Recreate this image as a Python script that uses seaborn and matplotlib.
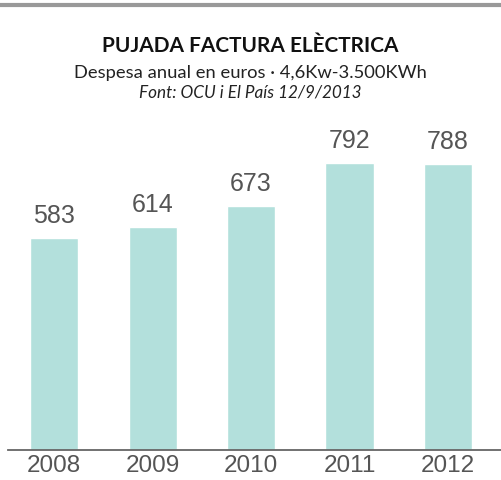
import numpy as np
import pandas as pd
import seaborn as sns
import matplotlib.pyplot as plt
from matplotlib.lines import Line2D

years = ['2008', '2009', '2010', '2011', '2012']
cost = [583, 614, 673, 792, 788]

bar_color = '#b3e0dc'
text_gray = '#555555'

df = pd.DataFrame({'year': years, 'cost': cost})

sns.set_theme(style='white')
plt.rcParams['font.family'] = ['Liberation Sans', 'DejaVu Sans']

fig = plt.figure(figsize=(5.01, 4.81), dpi=100)
# axes placed so the baseline sits near the bottom, bars span the width
ax = fig.add_axes([8 / 501, 30 / 481, 493 / 501, 363 / 481])
sns.barplot(data=df, x='year', y='cost', color=bar_color, saturation=1,
            width=0.49, ax=ax)
ax.set_xlim(-0.47, 4.54)
ax.set_ylim(0, 1000)

for i, v in enumerate(cost):
    ax.text(i, v + 30, str(v), ha='center', va='bottom', fontsize=18,
            color=text_gray)

sns.despine(ax=ax, left=True, top=True, right=True)
ax.spines['bottom'].set_color('#666666')
ax.spines['bottom'].set_linewidth(1.3)
ax.set_yticks([])
ax.set_xlabel('')
ax.set_ylabel('')
ax.tick_params(axis='x', length=0, labelsize=17.5, labelcolor=text_gray, pad=3)

# top frame line
fig.add_artist(Line2D([0, 1], [1 - 5.5 / 481] * 2, color='#999999', lw=3,
                      transform=fig.transFigure))

fig.text(0.5, 1 - 46 / 481, 'PUJADA FACTURA ELÈCTRICA', ha='center',
         va='center', fontsize=15, fontweight='bold', color='#111111',
         family=['Lato', 'DejaVu Sans'])
fig.text(0.5, 1 - 73 / 481, 'Despesa anual en euros · 4,6Kw-3.500KWh',
         ha='center', va='center', fontsize=13.2, color='#222222',
         family=['Lato', 'DejaVu Sans'])
fig.text(0.5, 1 - 93 / 481, 'Font: OCU i El País 12/9/2013', ha='center',
         va='center', fontsize=12.3, style='italic', color='#222222',
         family=['Lato', 'DejaVu Sans'])

plt.savefig('out.png', dpi=100)
